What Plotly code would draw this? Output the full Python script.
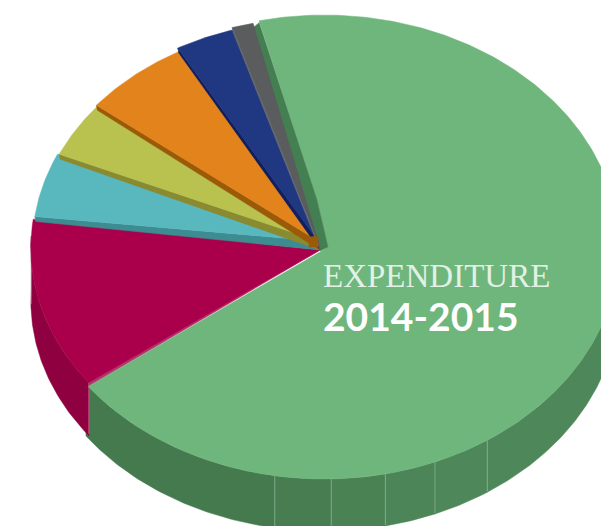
import math
import plotly.graph_objects as go

categories = ["Main", "Second", "Third", "Fourth", "Fifth", "Sixth", "Seventh"]
shares = [68.2, 12.3, 4.7, 4.1, 6.1, 3.3, 1.2]
top_colors = ["#6EB67C", "#AA004B", "#58B8BE", "#B9C24E", "#E2841B", "#203782", "#5A5C5E"]
edge_colors = ["#447F51", "#8E003F", "#3C8C92", "#8A8A30", "#9A5A08", "#0F1F60", "#6C7072"]
radius_scale = [1.0, 0.967, 0.955, 0.95, 0.955, 0.97, 0.98]
wall_seams = [90, 146.4, 157.9, 168, 178.6, 189.6, 233.8]
wall_colors = ["#4E8759", "#4E8759", "#4C8557", "#4A8254", "#477D51", "#457A4F"]
title_line = "EXPENDITURE"
year_line = "2014-2015"

START = -12.7
RY = 232.0
DEPTH = 51.0
GX, GY, GRX = 324.0, 247.0, 295.0
PX, PRX = 318.0, 299.0


def rim(a, s, cx, cy, rx):
    t = math.radians(a)
    return cx + s * rx * math.sin(t), cy - s * RY * math.cos(t)


def arc(a0, a1, s, cx, cy, rx, dy=0.0):
    n = max(2, int(abs(a1 - a0) * 1.5))
    pts = [rim(a0 + (a1 - a0) * i / n, s, cx, cy, rx) for i in range(n + 1)]
    return [(x, y + dy) for x, y in pts]


def poly(fig, pts, color):
    xs = [p[0] for p in pts] + [pts[0][0]]
    ys = [p[1] for p in pts] + [pts[0][1]]
    fig.add_trace(go.Scatter(x=xs, y=ys, mode="lines", fill="toself", fillcolor=color,
                             line=dict(color=color, width=0.5), hoverinfo="skip", showlegend=False))


def seam(fig, x, y0, y1, color):
    fig.add_trace(go.Scatter(x=[x, x], y=[y0, y1], mode="lines", line=dict(color=color, width=1),
                             hoverinfo="skip", showlegend=False))


fig = go.Figure()
total = sum(shares)
spans = []
a = START
for v in shares:
    spans.append((a, a + v / total * 360))
    a = spans[-1][1]

# walls of the green slice
for i, c in enumerate(wall_colors):
    a0, a1 = wall_seams[i], wall_seams[i + 1]
    poly(fig, arc(a0, a1, 1, GX, GY, GRX) + arc(a1, a0, 1, GX, GY, GRX, dy=DEPTH + 1), c)
    if i > 0:
        x, y = rim(a0, 1, GX, GY, GRX)
        seam(fig, x, y, y + DEPTH, "rgba(170,210,180,0.5)")

# crimson wall
ca0, ca1 = spans[1]
CCX, CCY = 320.0, 248.0
cs = radius_scale[1]
poly(fig, arc(ca0, ca0 + 40, cs, CCX, CCY, PRX) + arc(ca0 + 40, ca0, cs, CCX, CCY, PRX, dy=DEPTH + 2), edge_colors[1])
x, y = rim(ca0, cs, CCX, CCY, PRX)
seam(fig, x, y, y + DEPTH, "rgba(230,120,170,0.7)")
x, y = rim(ca0 + 33, cs, CCX, CCY, PRX)
seam(fig, x, y, y + DEPTH * 0.8, "rgba(230,120,170,0.5)")

# green top
g0, g1 = spans[0]
gc = rim(g1, 1, GX, GY, GRX)
cr = rim(ca0, cs, CCX, CCY, PRX)
poly(fig, [cr, (CCX, CCY + 2), gc], "#B8346E")
poly(fig, arc(g0, g1, 1, GX, GY, GRX) + [(320, 252), (328, 247), (317, 200)], top_colors[0])

# crimson top
poly(fig, [(CCX, CCY + 2)] + arc(ca0, ca1, cs, CCX, CCY, PRX), top_colors[1])

# green inner wall strip
r0 = rim(g0, 1, GX, GY, GRX)
poly(fig, [(r0[0], r0[1] + 2), (317, 200), (328, 247), (320, 251), (316, 240), (298, 200), (r0[0] - 6, r0[1] + 7)],
     edge_colors[0])

# small slices, each with its thin inner wall then its top
HY = 245.0
for i in range(2, 7):
    a0, a1 = spans[i]
    s = radius_scale[i]
    r = rim(a0, s, PX, HY, PRX)
    poly(fig, [(PX, HY - 4), r, (r[0] + 1, r[1] + 5), (PX + 2, HY + 5)], edge_colors[i])
    poly(fig, [(PX, HY - 4)] + arc(a0, a1 - 0.1, s, PX, HY, PRX), top_colors[i])

# orange block at the hub
poly(fig, [(309, 237), (318, 236), (318, 247), (309, 247)], edge_colors[4])

fig.add_annotation(x=321, y=276, text=title_line, showarrow=False, xanchor="left", yanchor="middle",
                   font=dict(family="Liberation Serif", size=33, color="#E2F1E5"))
fig.add_annotation(x=321, y=316, text="<b>" + year_line + "</b>", showarrow=False, xanchor="left", yanchor="middle",
                   font=dict(family="Lato", size=39, color="#FFFFFF"))

fig.update_layout(width=601, height=526, margin=dict(l=0, r=0, t=0, b=0), autosize=False,
                  paper_bgcolor="white", plot_bgcolor="white", showlegend=False,
                  xaxis=dict(range=[0, 601], visible=False, fixedrange=True),
                  yaxis=dict(range=[526, 0], visible=False, fixedrange=True))
fig.write_html("out.html", config=dict(displayModeBar=False),
               post_script="document.body.style.margin='0';document.body.style.overflow='hidden';")
